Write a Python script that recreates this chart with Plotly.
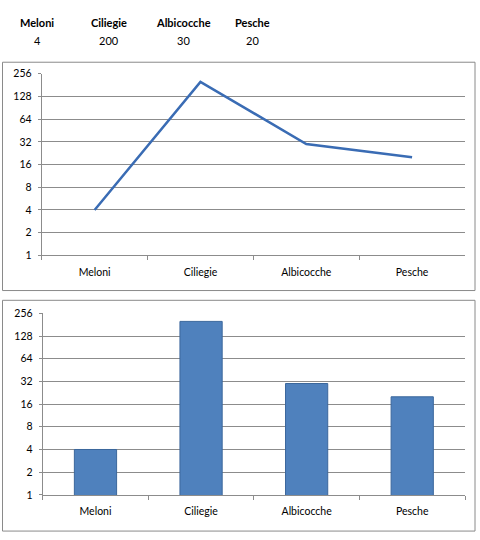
import math
import plotly.graph_objects as go

# data
fruits = ["Meloni", "Ciliegie", "Albicocche", "Pesche"]
quantities = [4, 200, 30, 20]
y_ticks = [1, 2, 4, 8, 16, 32, 64, 128, 256]
# centres of the little table above the charts (pixels)
table_x = [37, 109, 183, 252]

W, H = 480, 540
FONT = "Lato, Noto Sans, sans-serif"
GRID = "#8c8c8c"


def px(x):
    return x / W


def py(y):
    return 1 - y / H


fig = go.Figure()

fig.add_trace(go.Scatter(
    x=fruits, y=quantities, mode="lines",
    line=dict(color="#3A6CB4", width=2.5),
    xaxis="x", yaxis="y", showlegend=False, hoverinfo="skip",
))

fig.add_trace(go.Bar(
    x=fruits, y=quantities,
    marker=dict(color="#4F81BD", line=dict(color="#3B679C", width=1)),
    width=0.4,
    xaxis="x2", yaxis="y2", showlegend=False, hoverinfo="skip",
))

yax = dict(
    type="log", range=[0, math.log10(256)],
    tickvals=y_ticks, ticktext=[str(v) for v in y_ticks],
    showgrid=True, gridcolor=GRID, gridwidth=1,
    showline=True, linecolor=GRID, linewidth=1,
    ticks="outside", ticklen=3, tickcolor=GRID,
    tickfont=dict(size=10.5, color="#000"), ticklabelstandoff=4,
    zeroline=False, fixedrange=True,
)
xax = dict(
    type="category", range=[-0.5, 3.5],
    showgrid=False, showline=True, linecolor=GRID, linewidth=1,
    ticks="outside", ticklen=4, tickcolor=GRID, tickson="boundaries",
    tickfont=dict(size=10.5, color="#000"), ticklabelstandoff=7,
    fixedrange=True,
)

fig.update_layout(
    autosize=True,
    margin=dict(l=0, r=0, t=0, b=0),
    paper_bgcolor="white", plot_bgcolor="white",
    font=dict(family=FONT, size=11, color="#000"),
    xaxis=dict(xax, domain=[px(41.7), px(465)], anchor="y"),
    yaxis=dict(yax, domain=[py(255), py(69.3)], anchor="x"),
    xaxis2=dict(xax, domain=[px(42.7), px(465)], anchor="y2"),
    yaxis2=dict(yax, domain=[py(500), py(314.3)], anchor="x2"),
    showlegend=False,
)

# chart frames
for top, bottom in [(57.5, 291), (301, 537)]:
    fig.add_shape(type="rect", xref="paper", yref="paper",
                  x0=px(2.5), x1=px(475), y0=py(bottom), y1=py(top),
                  line=dict(color="#8a8a8a", width=1), layer="below")

# table above the charts
for name, val, tx in zip(fruits, quantities, table_x):
    fig.add_annotation(x=px(tx), y=py(17), xref="paper", yref="paper",
                       xanchor="center", yanchor="middle",
                       text="<b>" + name + "</b>", showarrow=False,
                       font=dict(size=11, color="#000"))
    fig.add_annotation(x=px(tx), y=py(35), xref="paper", yref="paper",
                       xanchor="center", yanchor="middle",
                       text=str(val), showarrow=False,
                       font=dict(size=11, color="#000"))

fig.write_html(
    "out.html",
    config={"displayModeBar": False, "staticPlot": True, "responsive": True},
    default_width="100vw",
    default_height="100vh",
    post_script=(
        "document.documentElement.style.margin='0';"
        "document.body.style.margin='0';"
        "document.body.style.overflow='hidden';"
        "document.documentElement.style.overflow='hidden';"
        "Plotly.Plots.resize(document.getElementById('{plot_id}'));"
    ),
)
